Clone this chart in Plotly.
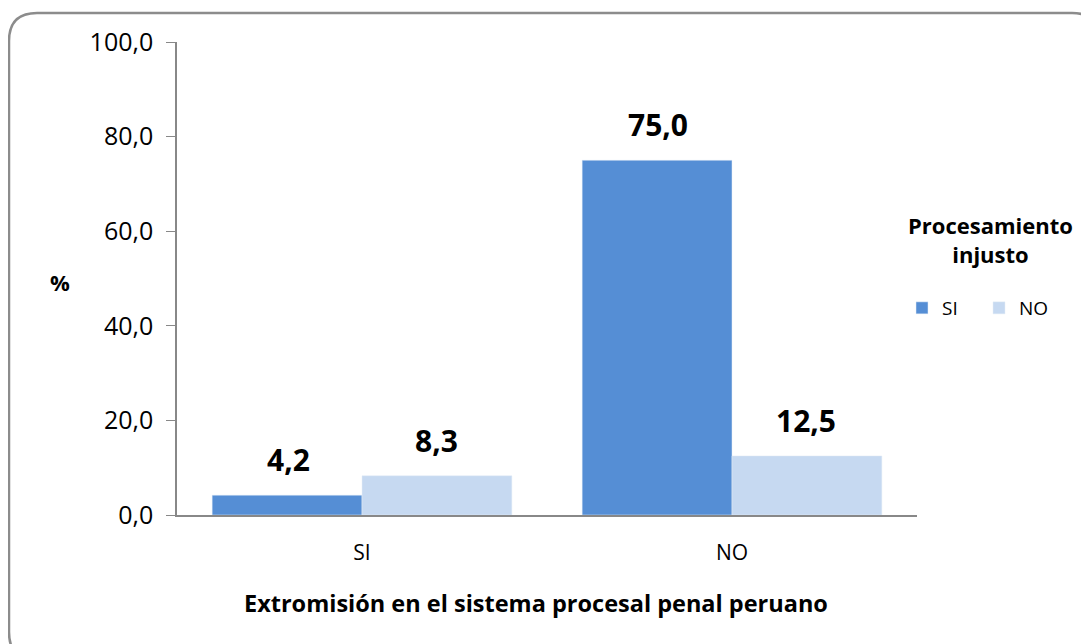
import plotly.graph_objects as go

categories = ["SI", "NO"]
serie_si = [4.2, 75.0]
serie_no = [8.3, 12.5]
series_names = ["SI", "NO"]
y_ticks = [0, 20, 40, 60, 80, 100]

W, H = 1089, 644
OFF = 8  # page body margin in the browser
L, T = 177 - OFF, 42 - OFF
R = W - (917 - OFF)
B = H - (515 - OFF)
pw, ph = W - L - R, H - T - B

def px(x):  # reference pixel x -> paper
    return (x - 177) / pw

def py(y):  # reference pixel y -> paper
    return (515 - y) / ph

font_fam = "Open Sans, Noto Sans, sans-serif"

fig = go.Figure()
colors = ["#558ED5", "#C6D9F1"]
for name, vals, col in zip(series_names, [serie_si, serie_no], colors):
    fig.add_trace(go.Bar(
        x=categories, y=vals, name=name, marker_color=col,
        offsetgroup=name,
    ))

annotations = []
# data labels
for i, (vals, shift) in enumerate(zip([serie_si, serie_no], [-0.2, 0.2])):
    for j, v in enumerate(vals):
        annotations.append(dict(
            x=j + shift, y=v, xref="x", yref="y",
            text=f"<b>{v:.1f}</b>".replace(".", ","),
            showarrow=False, xanchor="center", yanchor="bottom", yshift=13,
            font=dict(size=30, color="black", family=font_fam),
        ))

annotations += [
    dict(text="<b>%</b>", x=px(60), y=py(282), xref="paper", yref="paper",
         xanchor="center", yanchor="middle",
         showarrow=False, font=dict(size=22)),
    dict(text="<b>Extromisión en el sistema procesal penal peruano</b>",
         x=px(536), y=py(603), xref="paper", yref="paper",
         xanchor="center", yanchor="middle",
         showarrow=False, font=dict(size=23.5)),
    dict(text="<b>Procesamiento<br>injusto</b>", x=px(990), y=py(240),
         xref="paper", yref="paper", showarrow=False,
         xanchor="center", yanchor="middle",
         font=dict(size=22), align="center"),
]

# rounded border
x0, x1, y0, y1 = px(9), px(1100), py(13), py(660)
rx, ry = 28 / pw, 28 / ph
path = (f"M {x0+rx},{y0} L {x1-rx},{y0} Q {x1},{y0} {x1},{y0-ry} "
        f"L {x1},{y1+ry} Q {x1},{y1} {x1-rx},{y1} L {x0+rx},{y1} "
        f"Q {x0},{y1} {x0},{y1+ry} L {x0},{y0-ry} Q {x0},{y0} {x0+rx},{y0} Z")
fig.add_shape(type="path", path=path, xref="paper", yref="paper",
              line=dict(color="#8C8C8C", width=2.5), layer="below")

fig.update_layout(
    width=W, height=H,
    margin=dict(l=L, r=R, t=T, b=B),
    paper_bgcolor="white", plot_bgcolor="white",
    barmode="group", bargap=0.19, bargroupgap=0,
    separators=",.",
    font=dict(family=font_fam, color="black"),
    showlegend=True,
    legend=dict(orientation="h", x=px(902), y=py(308), xanchor="left", yanchor="middle",
                font=dict(size=19, family=font_fam), traceorder="normal",
                itemwidth=30, entrywidth=32, bgcolor="rgba(0,0,0,0)"),
    xaxis=dict(type="category", range=[-0.5, 1.5],
               showline=True, linecolor="#888888", linewidth=1.5, ticks="",
               tickfont=dict(size=21), showgrid=False, ticklabelstandoff=18),
    yaxis=dict(range=[0, 100], tickvals=y_ticks, tickformat=".1f",
               showline=True, linecolor="#888888", linewidth=1.5,
               ticks="outside", ticklen=9, tickcolor="#888888",
               tickfont=dict(size=25), showgrid=False, zeroline=False,
               ticklabelstandoff=8),
    annotations=annotations,
)

fig.write_html("out.html")
